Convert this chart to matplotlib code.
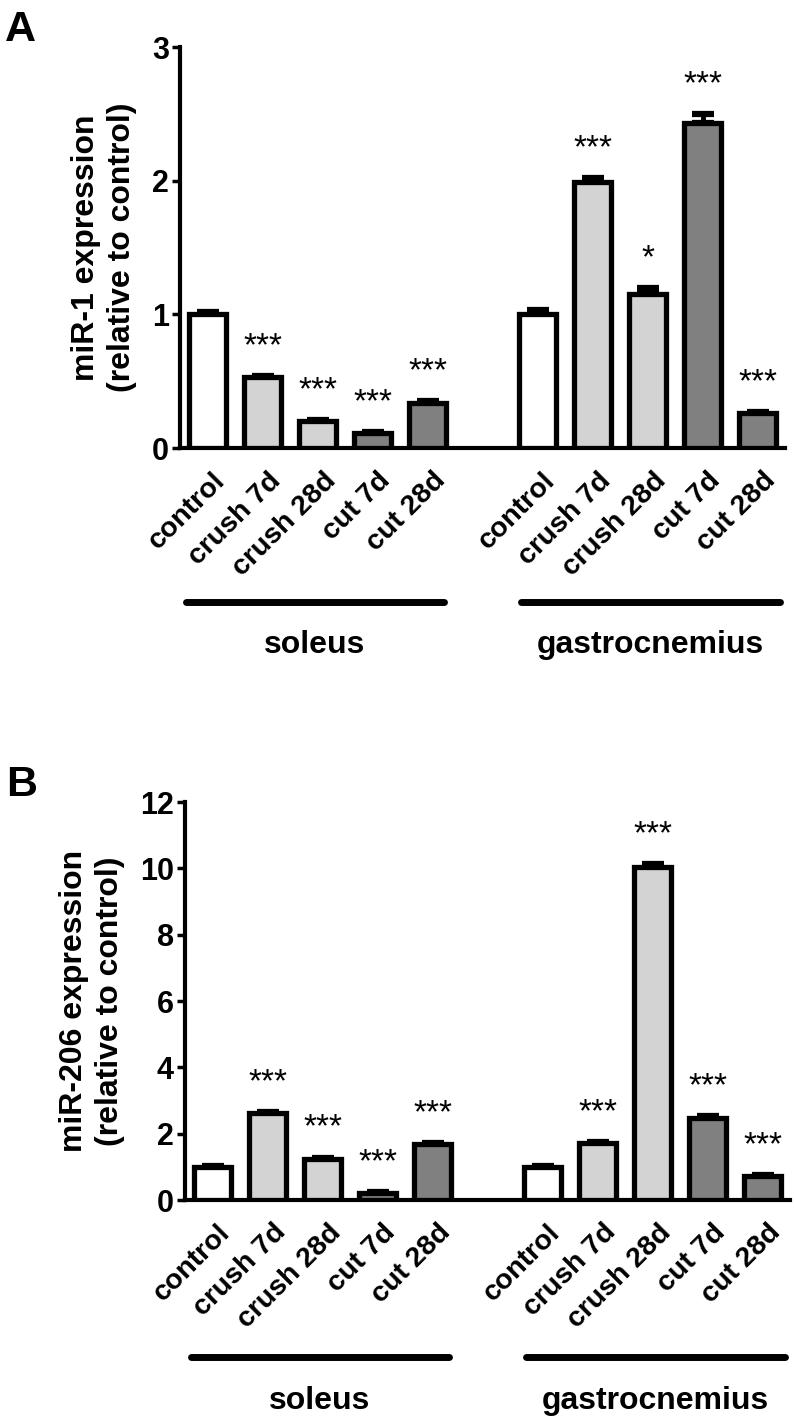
import matplotlib
matplotlib.use("Agg")
import matplotlib.pyplot as plt
import matplotlib.transforms as mtransforms
import numpy as np

plt.rcParams['font.family'] = ['Liberation Sans', 'DejaVu Sans']
plt.rcParams['font.weight'] = 'bold'
plt.rcParams['axes.labelweight'] = 'bold'

# categories and groups
categories = ['control', 'crush 7d', 'crush 28d', 'cut 7d', 'cut 28d']
groups = ['soleus', 'gastrocnemius']
bar_colors = ['#ffffff', '#d3d3d3', '#d3d3d3', '#808080', '#808080']

# panel A: miR-1
mir1_soleus = [1.00, 0.53, 0.20, 0.11, 0.34]
mir1_soleus_err = [0.02, 0.01, 0.01, 0.01, 0.01]
mir1_gastro = [1.00, 1.99, 1.15, 2.43, 0.26]
mir1_gastro_err = [0.03, 0.03, 0.05, 0.07, 0.01]
mir1_stars = ['', '***', '***', '***', '***', '', '***', '*', '***', '***']

# panel B: miR-206
mir206_soleus = [1.00, 2.62, 1.25, 0.22, 1.68]
mir206_soleus_err = [0.03, 0.03, 0.03, 0.03, 0.03]
mir206_gastro = [1.00, 1.71, 10.05, 2.47, 0.73]
mir206_gastro_err = [0.03, 0.03, 0.08, 0.05, 0.03]
mir206_stars = ['', '***', '***', '***', '***', '', '***', '***', '***', '***']

x_pos = [0, 1, 2, 3, 4, 6, 7, 8, 9, 10]


def draw_panel(ax, values, errors, stars, ymax, yticks, ylabel, label_x, line_y, text_y):
    colors = bar_colors + bar_colors
    ax.bar(x_pos, values, width=0.66, color=colors, edgecolor='black',
           linewidth=3.8, zorder=3)
    zeros = np.zeros(len(values))
    ax.errorbar(x_pos, values, yerr=[zeros, errors], fmt='none', ecolor='black',
                elinewidth=3.5, capsize=8, capthick=4.5, zorder=2)
    for x, v, e, s in zip(x_pos, values, errors, stars):
        if s:
            ax.annotate(s, (x, v + e), xytext=(0, 15), textcoords='offset points',
                        ha='center', va='baseline', fontsize=24, fontweight='normal')

    ax.set_xlim(-0.5, 10.5)
    ax.set_ylim(0, ymax)
    ax.set_yticks(yticks)
    ax.tick_params(axis='y', labelsize=22, width=2.5, length=6, pad=2)
    ax.tick_params(axis='x', length=0, pad=14)
    ax.set_xticks(x_pos)
    ax.set_xticklabels(categories + categories, rotation=45, ha='right',
                       va='top', rotation_mode='anchor', fontsize=20.5)
    offset = mtransforms.ScaledTranslation(0.05, 0, ax.figure.dpi_scale_trans)
    for lab in ax.get_xticklabels():
        lab.set_transform(lab.get_transform() + offset)

    for side in ['top', 'right']:
        ax.spines[side].set_visible(False)
    ax.spines['left'].set_linewidth(3)
    ax.spines['bottom'].set_linewidth(3)

    ax.set_ylabel(ylabel, fontsize=23, linespacing=1.25)
    ax.yaxis.set_label_coords(label_x, 0.5)

    trans = mtransforms.blended_transform_factory(ax.transData, ax.transAxes)
    for x0, x1, name in [(-0.4, 4.3, groups[0]), (5.7, 10.4, groups[1])]:
        ax.plot([x0, x1], [line_y, line_y], transform=trans, color='black',
                linewidth=5, solid_capstyle='round', clip_on=False)
        ax.text((x0 + x1) / 2, text_y, name, transform=trans, ha='center',
                va='center', fontsize=23)


fig = plt.figure(figsize=(7.94, 14.22), dpi=100)

ax1 = fig.add_axes([0.2267, 0.6849, 0.762, 0.282])
draw_panel(ax1, mir1_soleus + mir1_gastro, mir1_soleus_err + mir1_gastro_err,
           mir1_stars, 3, [0, 1, 2, 3], 'miR-1 expression\n(relative to control)',
           -0.071, -0.384, -0.491)

ax2 = fig.add_axes([0.233, 0.1561, 0.762, 0.2799])
draw_panel(ax2, mir206_soleus + mir206_gastro, mir206_soleus_err + mir206_gastro_err,
           mir206_stars, 12, [0, 2, 4, 6, 8, 10, 12],
           'miR-206 expression\n(relative to control)', -0.099, -0.394, -0.505)

fig.text(0.006, 0.993, 'A', fontsize=31, va='top', ha='left')
fig.text(0.008, 0.462, 'B', fontsize=31, va='top', ha='left')

fig.savefig('out.png', dpi=100)
